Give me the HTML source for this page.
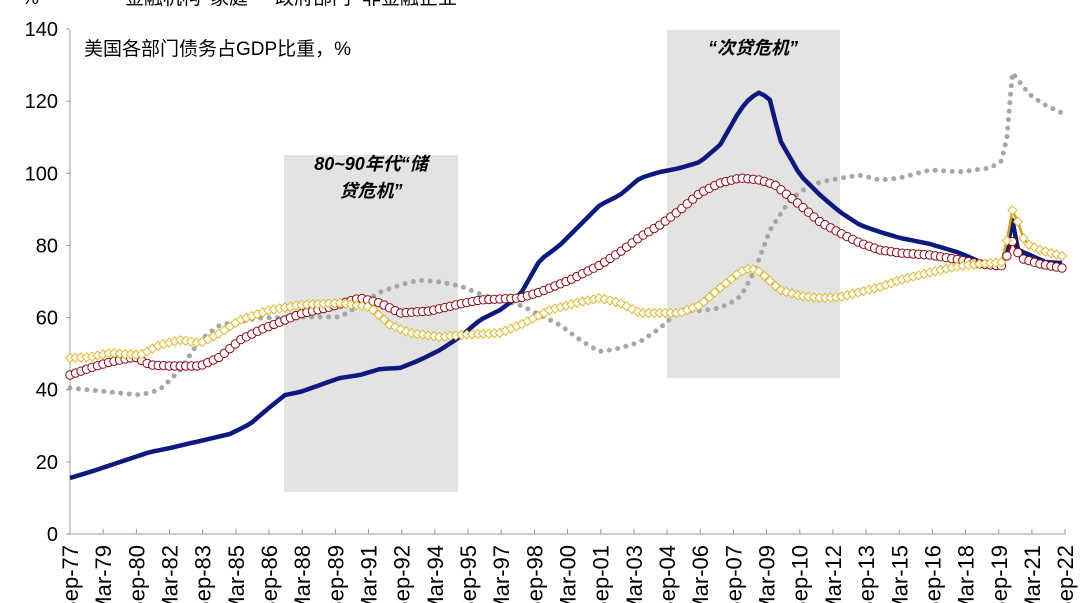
<!DOCTYPE html>
<html><head><meta charset="utf-8"><style>
html,body{margin:0;padding:0;background:#fff;}
svg{display:block;font-family:"Liberation Sans","Noto Sans CJK SC",sans-serif;}
</style></head><body>
<svg id="c" width="1080" height="603" viewBox="0 0 1080 603" xmlns="http://www.w3.org/2000/svg">
<rect x="284" y="155" width="174" height="337" fill="#e3e3e3"/>
<rect x="667" y="30" width="173" height="348" fill="#e3e3e3"/>
<text x="371" y="170" font-size="18" font-weight="bold" font-style="italic" text-anchor="middle">80~90年代“储</text>
<text x="371" y="197" font-size="18" font-weight="bold" font-style="italic" text-anchor="middle">贷危机”</text>
<text x="753" y="54" font-size="18" font-weight="bold" font-style="italic" text-anchor="middle">“次贷危机”</text>
<text x="84" y="55" font-size="19">美国各部门债务占GDP比重，%</text>
<g font-size="19" fill="#000">
<text x="22" y="4">%</text>
<text x="125" y="4">金融机构</text>
<text x="210" y="4">家庭</text>
<text x="275" y="4">政府部门</text>
<text x="362" y="4">非金融企业</text>
</g>
<g font-size="20" text-anchor="end" id="yl"></g>
<line x1="70" y1="30" x2="70" y2="534" stroke="#999" stroke-width="1"/>
<line x1="70" y1="534" x2="1065" y2="534" stroke="#999" stroke-width="1"/>
<g id="ticks"></g>
<g id="series"></g>
</svg>
<script>
var NS="http://www.w3.org/2000/svg",svg=document.getElementById('c');
function el(t,a,p){var e=document.createElementNS(NS,t);for(var k in a)e.setAttribute(k,a[k]);(p||svg).appendChild(e);return e;}
var yl=document.getElementById('yl');
for(var v=0;v<=140;v+=20){var y=534-v*3.607;var t=el('text',{x:58,y:y+7},yl);t.textContent=v;
 el('line',{x1:66,y1:y,x2:70,y2:y,stroke:'#999'});}
var labs=["Sep-77","Mar-79","Sep-80","Mar-82","Sep-83","Mar-85","Sep-86","Mar-88","Sep-89","Mar-91","Sep-92","Mar-94","Sep-95","Mar-97","Sep-98","Mar-00","Sep-01","Mar-03","Sep-04","Mar-06","Sep-07","Mar-09","Sep-10","Mar-12","Sep-13","Mar-15","Sep-16","Mar-18","Sep-19","Mar-21","Sep-22"];
var tk=document.getElementById('ticks');
for(var i=0;i<labs.length;i++){var x=70+i*33.17;el('line',{x1:x,y1:529,x2:x,y2:534,stroke:'#999'},tk);
 var t=el('text',{x:0,y:0,'font-size':22,'text-anchor':'end',transform:'translate('+(x+8)+',545) rotate(-90)'},tk);t.textContent=labs[i];}
function interp(k,x){for(var i=0;i<k.length-1;i++){if(x>=k[i][0]&&x<=k[i+1][0]){var f=(x-k[i][0])/(k[i+1][0]-k[i][0]);return k[i][1]+f*(k[i+1][1]-k[i][1]);}}return k[k.length-1][1];}
function pts(k){var r=[];for(var i=0;i<=180;i++){var x=70+i*992/180;r.push([x,interp(k,x)]);}return r;}
var blue=[[70,478],[90,472],[120,462],[150,452],[170,448],[200,441],[230,434],[250,424],[270,407],[285,395],[300,392],[320,385],[340,378],[360,375],[380,369],[400,368],[420,360],[440,350],[460,337],[480,320],[500,310],[520,295],[540,260],[560,245],[580,225],[600,205],[620,195],[640,178],[660,172],[680,168],[700,162],[720,145],[740,110],[750,98],[760,92],[770,100],[780,140],[800,175],[820,195],[840,212],[860,225],[880,232],[900,238],[930,244],[960,253],[980,262],[1003,264],[1008,245],[1012,218],[1018,250],[1030,255],[1045,262],[1062,263]];
var red=[[70,375],[90,368],[110,362],[135,357],[150,365],[170,366],[200,366],[220,357],[240,340],[260,330],[285,320],[300,314],[330,307],[360,298],[380,303],[400,313],[430,311],[460,304],[480,300],[500,299],[520,298],[540,292],[570,280],[600,265],[620,252],[640,237],[660,225],[680,210],[700,193],[720,183],[740,178],[760,180],[775,185],[800,205],[820,222],[840,233],[860,243],[880,250],[900,253],[930,255],[960,260],[980,264],[1003,266],[1013,240],[1020,258],[1040,264],[1062,268]];
var yel=[[70,358],[90,357],[110,353],[140,355],[160,345],[180,340],[200,343],[220,333],[240,320],[270,310],[300,305],[340,303],[370,307],[390,325],[410,333],[440,337],[460,335],[500,333],[520,325],[550,310],[580,302],[600,298],[620,303],[640,313],[680,313],[700,305],[720,288],[740,272],[750,268],[760,272],[780,290],[800,296],[820,298],[840,297],[860,292],[880,287],[900,280],[920,275],[940,270],[960,266],[980,264],[1003,262],[1013,207],[1025,243],[1040,250],[1062,256]];
var gry=[[70,388],[90,390],[110,392],[140,395],[160,390],[180,370],[200,340],[220,325],[260,318],[300,317],[340,317],[360,305],[380,292],[400,285],[420,280],[440,282],[460,286],[480,294],[500,300],[520,305],[540,315],[560,325],[580,340],[600,352],[620,348],[640,342],[660,328],[680,310],[700,311],[720,308],[740,298],[755,270],[770,230],[790,200],[810,185],[830,180],[860,175],[880,180],[900,178],[930,170],[960,172],[990,168],[1003,160],[1010,120],[1013,61],[1018,80],[1030,95],[1045,105],[1062,113]];
var g=document.getElementById('series');
function path(p){return 'M'+p.map(function(q){return q[0].toFixed(1)+','+q[1].toFixed(1);}).join(' L');}
var pg=pts(gry);
el('path',{d:path(pg),fill:'none',stroke:'#a6a6a6','stroke-width':5,'stroke-linecap':'round','stroke-dasharray':'0 8.5'},g);
var pb=pts(blue);
el('path',{d:path(pb),fill:'none',stroke:'#0c1a80','stroke-width':4.5,'stroke-linejoin':'round'},g);
var pr=pts(red);
el('path',{d:path(pr),fill:'none',stroke:'#8b0a14','stroke-width':2},g);
var py=pts(yel);
el('path',{d:path(py),fill:'none',stroke:'#d4a20c','stroke-width':2.5},g);
pr.forEach(function(q){el('circle',{cx:q[0],cy:q[1],r:4.2,fill:'#fff',stroke:'#8b0a14','stroke-width':1},g);});
py.forEach(function(q){var x=q[0],y=q[1],s=4.5;el('polygon',{points:(x)+','+(y-s)+' '+(x+s)+','+y+' '+x+','+(y+s)+' '+(x-s)+','+y,fill:'#fff',stroke:'#e0b830','stroke-width':1},g);});
</script>
</body></html>
